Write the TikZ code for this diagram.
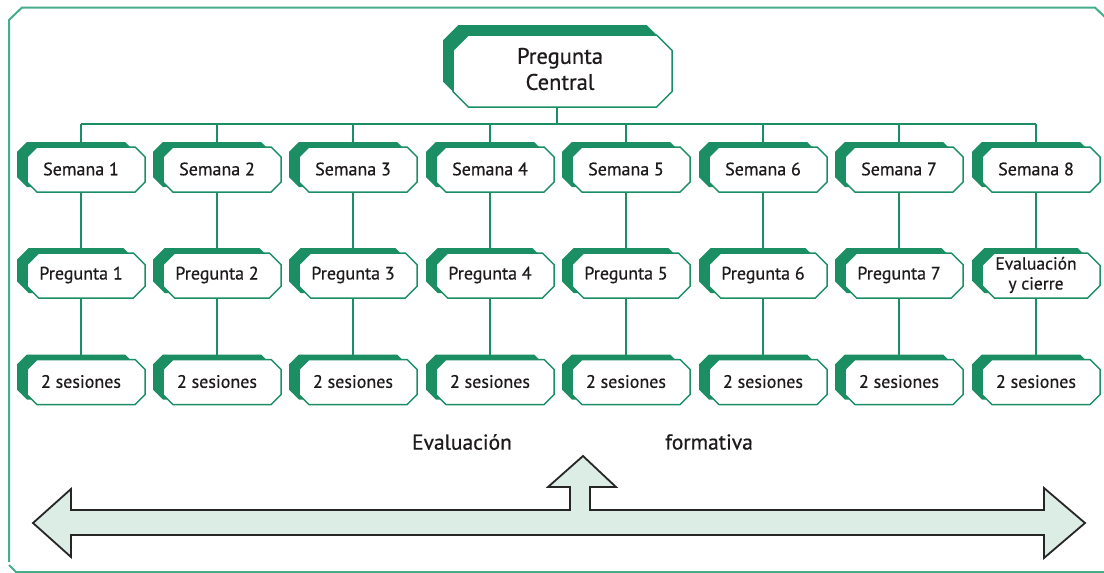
\documentclass[tikz,border=0pt]{standalone}
\usepackage{fontspec}
\setmainfont{PT Sans}[FakeBold=0.6]
\usepackage{xcolor}
\usetikzlibrary{
    shapes.misc,
    shadows,
    backgrounds,
    positioning
}
\definecolor{boxgreen}{HTML}{1B8F63}
\definecolor{framegreen}{HTML}{44AE87}
\definecolor{arrowfill}{HTML}{DBEDE5}
\definecolor{inktext}{HTML}{1E1A1C}
\tikzset{%
    % Specifications for style of boxes:
    plain/.style = {},
    base/.style = {
        plain,
        chamfered rectangle, chamfered rectangle xsep=9pt,
        minimum width=118pt, minimum height=45pt, inner sep=0pt,
        text centered, align=center, text=inktext,
        font=\fontsize{18}{21}\selectfont
    },
    week/.style = {
        base,
        general shadow={shadow xshift=-5pt, shadow yshift=4.5pt, fill=boxgreen},
        general shadow={shadow xshift=5pt, shadow yshift=-0.5pt, fill=white,
            draw=boxgreen, line width=1.5pt}
    },
    central/.style = {
        base, minimum width=219pt, minimum height=72pt,
        chamfered rectangle xsep=12pt,
        font=\fontsize{22.5}{26}\selectfont,
        general shadow={shadow xshift=-7.5pt, shadow yshift=8pt, fill=boxgreen},
        general shadow={shadow xshift=2.5pt, shadow yshift=-2pt, fill=white,
            draw=boxgreen, line width=1.5pt}
    },
    link/.style = {draw=boxgreen, line width=1.6pt},
    caption/.style = {text=inktext, font=\fontsize{21.5}{24}\selectfont}
}
\begin{document}
\begin{tikzpicture}[x=1pt, y=-1pt]
    \useasboundingbox (0,0) rectangle (1104,573);
    % outer frame
    \draw[framegreen, line width=2pt]
        (9,562) -- (9,20) -- (22,7.5) -- (1095,7.5) -- (1112,24)
        -- (1112,572) -- (16,572) -- (9,565);

    \node[central] (pc) at (560,69) {Pregunta\\Central};

    \node[week] (s1) at (81,169) {Semana 1};
    \node[week] (s2) at (217,169) {Semana 2};
    \node[week] (s3) at (353,169) {Semana 3};
    \node[week] (s4) at (490,169) {Semana 4};
    \node[week] (s5) at (626,169) {Semana 5};
    \node[week] (s6) at (763,169) {Semana 6};
    \node[week] (s7) at (899,169) {Semana 7};
    \node[week] (s8) at (1036,169) {Semana 8};

    \node[week] (p1) at (81,275) {Pregunta 1};
    \node[week] (p2) at (217,275) {Pregunta 2};
    \node[week] (p3) at (353,275) {Pregunta 3};
    \node[week] (p4) at (490,275) {Pregunta 4};
    \node[week] (p5) at (626,275) {Pregunta 5};
    \node[week] (p6) at (763,275) {Pregunta 6};
    \node[week] (p7) at (899,275) {Pregunta 7};
    \node[week, font=\fontsize{17.5}{20}\selectfont] (p8) at (1036,275) {Evaluación\\y cierre};

    \node[week] (t1) at (81,381.5) {2 sesiones};
    \node[week] (t2) at (217,381.5) {2 sesiones};
    \node[week] (t3) at (353,381.5) {2 sesiones};
    \node[week] (t4) at (490,381.5) {2 sesiones};
    \node[week] (t5) at (626,381.5) {2 sesiones};
    \node[week] (t6) at (763,381.5) {2 sesiones};
    \node[week] (t7) at (899,381.5) {2 sesiones};
    \node[week] (t8) at (1036,381.5) {2 sesiones};

    \coordinate (bus) at (557,124);
    \begin{scope}[on background layer]
        \draw[link] (bus |- pc.center) -- (bus);
        \draw[link] (s1 |- bus) -- (s8 |- bus);
        \draw[link] (s1 |- bus) -- (s1.center) -- (p1.center) -- (t1.center);
        \draw[link] (s2 |- bus) -- (s2.center) -- (p2.center) -- (t2.center);
        \draw[link] (s3 |- bus) -- (s3.center) -- (p3.center) -- (t3.center);
        \draw[link] (s4 |- bus) -- (s4.center) -- (p4.center) -- (t4.center);
        \draw[link] (s5 |- bus) -- (s5.center) -- (p5.center) -- (t5.center);
        \draw[link] (s6 |- bus) -- (s6.center) -- (p6.center) -- (t6.center);
        \draw[link] (s7 |- bus) -- (s7.center) -- (p7.center) -- (t7.center);
        \draw[link] (s8 |- bus) -- (s8.center) -- (p8.center) -- (t8.center);
    \end{scope}

    \node[caption] (ev) at (462,442) {Evaluación};
    \node[caption] (fo) at (709,442) {formativa};

    % double arrow with the branch pointing up
    \draw[fill=arrowfill, draw=black!85, line width=1.8pt, line join=miter]
        (33,523) -- (71,489) -- (71,510) -- (570,510) -- (570,487)
        -- (548,487) -- (583,456) -- (616,487) -- (590,487) -- (590,510)
        -- (1044,510) -- (1044,488) -- (1085,523) -- (1044,558)
        -- (1044,535) -- (71,535) -- (71,557) -- cycle;
\end{tikzpicture}
\end{document}
